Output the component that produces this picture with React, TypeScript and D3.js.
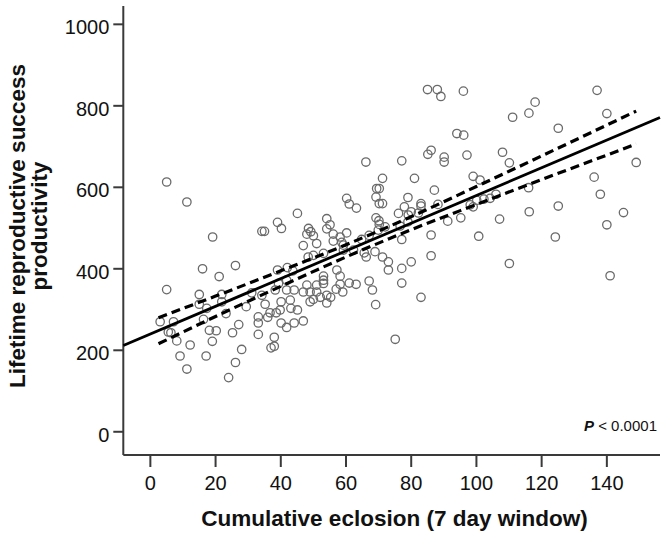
import React from 'react';
import * as d3 from 'd3';

const xTicks = [0, 20, 40, 60, 80, 100, 120, 140];
const yTicks = [0, 200, 400, 600, 800, 1000];

const points: [number, number][] = [
  [5.0,613],[11.2,564],[19.1,478],[34.2,492],[35.0,492],[39.0,514],[40.2,499],[45.1,536],[46.9,457],[48.0,485],
  [16.0,400],[26.1,408],[21.1,381],[39.0,397],[42.0,403],[43.7,395],[48.4,429],[5.0,349],[15.0,337],[21.9,337],
  [15.0,313],[17.3,303],[21.9,319],[31.1,341],[34.2,335],[29.4,307],[35.2,313],[36.7,292],[38.6,292],[36.0,281],
  [33.1,282],[33.1,267],[23.2,290],[16.3,276],[7.1,270],[3.0,270],[5.5,245],[6.3,243],[8.1,223],[12.2,213],
  [18.1,249],[20.2,248],[25.2,243],[27.1,263],[19.0,222],[9.1,186],[17.1,186],[28.0,202],[11.2,154],[26.1,170],
  [24.0,133],[33.1,239],[38.0,232],[37.0,206],[38.0,210],[40.1,267],[41.8,256],[44.1,267],[46.9,272],[40.1,319],
  [42.9,323],[39.8,299],[43.1,303],[45.1,299],[41.8,348],[44.1,348],[46.9,343],[48.0,360],[38.3,348],[39.3,364],[41.8,372],
  [66.1,662],[77.1,665],[85.1,681],[86.1,691],[90.1,674],[90.1,662],[97.1,679],[71.2,622],[81.0,622],[99.0,627],
  [101.1,618],[87.1,593],[69.4,597],[70.2,597],[60.2,573],[61.0,559],[63.2,549],[69.2,576],[70.2,560],[71.2,560],
  [79.0,575],[77.9,552],[83.0,560],[83.0,554],[88.2,558],[82.2,537],[80.0,540],[79.1,532],[76.1,536],[69.2,525],
  [70.1,518],[70.2,509],[54.1,523],[55.1,508],[48.5,499],[49.2,491],[50.0,481],[54.1,498],[56.1,485],[60.2,488],
  [56.1,468],[58.2,478],[58.7,465],[51.0,462],[59.2,458],[64.8,472],[67.1,482],[69.9,495],[72.0,503],[76.6,505],
  [79.0,515],[77.1,472],[86.1,483],[91.2,517],[95.2,525],[98.1,557],[99.0,552],[100.1,568],[100.7,480],[86.1,432],
  [80.0,417],[50.0,433],[53.1,438],[65.6,439],[66.2,429],[71.2,429],[73.0,417],[68.9,442],[62.3,446],[59.2,446],
  [73.0,397],[77.1,401],[77.1,365],[83.0,330],[67.1,370],[68.1,348],[69.1,312],[61.0,365],[63.1,362],[57.2,397],
  [58.2,382],[58.2,362],[57.0,350],[59.0,343],[53.1,382],[53.1,372],[53.1,364],[51.0,360],[51.0,343],[49.0,343],
  [54.1,335],[55.3,330],[52.1,330],[50.0,325],[49.0,319],[54.1,316],[75.1,227],[102.3,571],[104.2,573],[106.0,583],
  [85.0,840],[88.0,840],[89.1,823],[96.0,836],[137.0,838],[140.0,781],[118.0,809],[116.1,782],[111.1,772],[125.1,745],
  [94.0,732],[96.1,728],[108.0,686],[110.1,660],[149.0,661],[136.1,625],[138.0,583],[116.0,599],[107.1,522],[110.1,413],
  [116.2,540],[125.1,554],[124.2,478],[145.1,538],[140.0,508],[141.0,383]
];

const fitIntercept = 240;
const fitSlope = 3.4;
const bandX = [2.5, 20, 40, 60, 80, 100, 120, 149];
const bandUpper = [280, 333, 395, 459, 528, 602, 677, 787];
const bandLower = [216, 283, 357, 429, 496, 558, 619, 706];

const FONT = '"Liberation Sans", Arial, Helvetica, sans-serif';

export default function App() {
  const W = 666, H = 537;
  const x = d3.scaleLinear().domain([-8.3, 156.3]).range([123.3, 660]);
  const y = d3.scaleLinear().domain([-57, 1045]).range([455, 6]);
  const [x0, x1] = x.domain();
  const fitLine = d3.line<number>().x(d => x(d)).y(d => y(fitIntercept + fitSlope * d))([x0, x1]) || '';
  const bandLine = (vals: number[]) =>
    d3.line<number>().x((_, i) => x(bandX[i])).y(d => y(d)).curve(d3.curveMonotoneX)(vals) || '';
  const axisColor = '#3a3a3a';
  const left = x.range()[0], bottom = y.range()[0];
  return (
    <svg width={W} height={H} style={{ position: 'absolute', left: 0, top: 0, background: '#fff' }}>
      {/* axes */}
      <line x1={left} x2={left} y1={y.range()[1]} y2={bottom} stroke={axisColor} strokeWidth={2} />
      <line x1={left} x2={x.range()[1]} y1={bottom} y2={bottom} stroke={axisColor} strokeWidth={2} />
      {yTicks.map(t => (
        <g key={'y' + t}>
          <line x1={left - 10} x2={left} y1={y(t)} y2={y(t)} stroke={axisColor} strokeWidth={2} />
          <text x={left - 14} y={y(t) + 10} textAnchor="end" fontSize={20} fontFamily={FONT} fill="#111">{t}</text>
        </g>
      ))}
      {xTicks.map(t => (
        <g key={'x' + t}>
          <line x1={x(t)} x2={x(t)} y1={bottom} y2={bottom + 12} stroke={axisColor} strokeWidth={2} />
          <text x={x(t)} y={489.5} textAnchor="middle" fontSize={20} fontFamily={FONT} fill="#111">{t}</text>
        </g>
      ))}
      {/* points */}
      {points.map((p, i) => (
        <circle key={i} cx={x(p[0])} cy={y(p[1])} r={4.2} fill="none" stroke="#6a6a6a" strokeWidth={1.3} />
      ))}
      {/* fit + CI */}
      <path d={fitLine} fill="none" stroke="#000" strokeWidth={2.8} />
      <path d={bandLine(bandUpper)} fill="none" stroke="#000" strokeWidth={3.2} strokeDasharray="9,5" />
      <path d={bandLine(bandLower)} fill="none" stroke="#000" strokeWidth={3.2} strokeDasharray="9,5" />
      {/* labels */}
      <text x={394.5} y={526} textAnchor="middle" fontSize={22.5} fontWeight="bold" fontFamily={FONT} fill="#111">
        Cumulative eclosion (7 day window)
      </text>
      <g transform="translate(25,226) rotate(-90)">
        <text x={0} y={0} textAnchor="middle" fontSize={22.5} fontWeight="bold" fontFamily={FONT} fill="#111">
          Lifetime reproductive success
        </text>
      </g>
      <g transform="translate(47,226) rotate(-90)">
        <text x={0} y={0} textAnchor="middle" fontSize={22.5} fontWeight="bold" fontFamily={FONT} fill="#111">
          productivity
        </text>
      </g>
      <text x={657} y={430.5} textAnchor="end" fontSize={15} fontFamily={FONT} fill="#111">
        <tspan fontStyle="italic" fontWeight="bold">P</tspan> &lt; 0.0001
      </text>
    </svg>
  );
}
